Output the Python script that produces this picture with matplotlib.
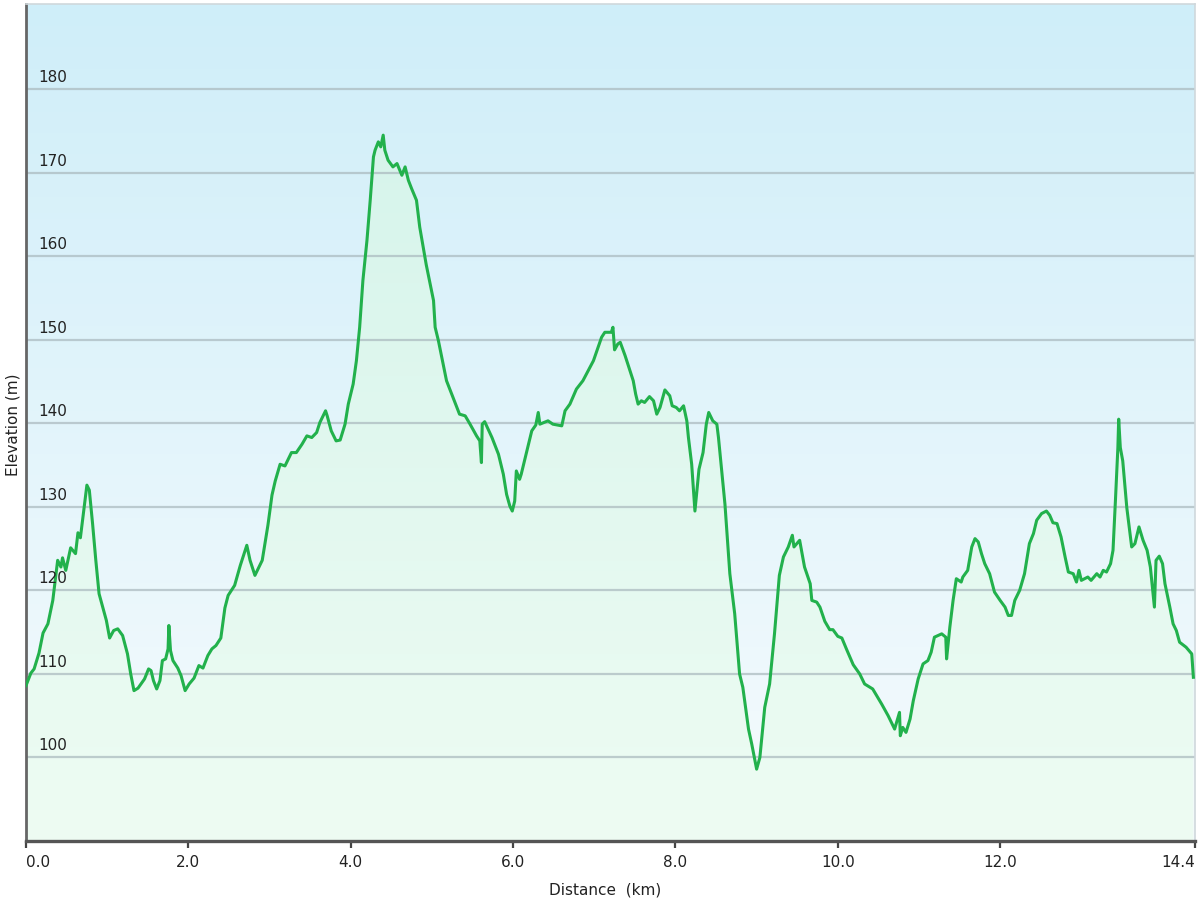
import numpy as np
import matplotlib
matplotlib.use('Agg')
import matplotlib.pyplot as plt
import matplotlib.transforms as mtransforms

# elevation profile (distance km, elevation m)
dist_km = [0.00, 0.06, 0.10, 0.16, 0.21, 0.27, 0.33, 0.39, 0.43, 0.45, 0.49, 0.55, 0.61, 0.64, 0.67,
           0.70, 0.75, 0.78, 0.82, 0.86, 0.90, 0.99, 1.03, 1.08, 1.13, 1.19, 1.25, 1.29, 1.33, 1.38,
           1.46, 1.51, 1.54, 1.57, 1.61, 1.65, 1.68, 1.72, 1.75, 1.76, 1.78, 1.81, 1.87, 1.91, 1.96,
           2.01, 2.07, 2.13, 2.18, 2.24, 2.29, 2.34, 2.40, 2.45, 2.49, 2.57, 2.64, 2.72, 2.76, 2.82,
           2.91, 2.98, 3.03, 3.07, 3.13, 3.19, 3.27, 3.33, 3.40, 3.46, 3.52, 3.58, 3.62, 3.69, 3.71,
           3.76, 3.82, 3.87, 3.93, 3.97, 4.03, 4.07, 4.11, 4.15, 4.20, 4.24, 4.28, 4.30, 4.34, 4.37,
           4.40, 4.42, 4.46, 4.52, 4.57, 4.63, 4.67, 4.71, 4.75, 4.81, 4.85, 4.93, 5.02, 5.04, 5.08,
           5.18, 5.26, 5.34, 5.41, 5.47, 5.55, 5.59, 5.61, 5.62, 5.65, 5.74, 5.82, 5.88, 5.92, 5.96,
           5.99, 6.02, 6.04, 6.08, 6.10, 6.17, 6.23, 6.28, 6.31, 6.33, 6.43, 6.49, 6.60, 6.64, 6.70,
           6.78, 6.86, 6.99, 7.09, 7.13, 7.21, 7.23, 7.25, 7.29, 7.32, 7.38, 7.48, 7.51, 7.54, 7.58,
           7.62, 7.68, 7.73, 7.77, 7.81, 7.87, 7.93, 7.96, 8.01, 8.05, 8.10, 8.14, 8.16, 8.20, 8.24,
           8.29, 8.34, 8.38, 8.41, 8.46, 8.51, 8.53, 8.57, 8.61, 8.67, 8.73, 8.79, 8.83, 8.90, 8.94,
           9.00, 9.04, 9.10, 9.16, 9.22, 9.28, 9.33, 9.39, 9.44, 9.46, 9.53, 9.59, 9.66, 9.68, 9.74,
           9.78, 9.84, 9.90, 9.94, 10.00, 10.05, 10.11, 10.19, 10.27, 10.33, 10.43, 10.54, 10.62, 10.70, 10.76,
           10.77, 10.80, 10.84, 10.89, 10.93, 10.99, 11.05, 11.11, 11.15, 11.19, 11.28, 11.33, 11.34, 11.38, 11.40,
           11.42, 11.46, 11.52, 11.54, 11.60, 11.65, 11.69, 11.73, 11.77, 11.81, 11.87, 11.93, 12.00, 12.06, 12.10,
           12.14, 12.18, 12.24, 12.30, 12.36, 12.41, 12.45, 12.51, 12.57, 12.61, 12.65, 12.70, 12.75, 12.80, 12.84,
           12.90, 12.94, 12.97, 13.00, 13.08, 13.12, 13.19, 13.23, 13.27, 13.31, 13.36, 13.39, 13.42, 13.45, 13.46,
           13.48, 13.51, 13.56, 13.62, 13.66, 13.71, 13.76, 13.81, 13.85, 13.90, 13.92, 13.96, 14.00, 14.03, 14.09,
           14.13, 14.17, 14.21, 14.29, 14.36, 14.38]
elev_m = [108.6, 110.1, 110.6, 112.5, 114.9, 116.0, 118.8, 123.6, 122.8, 123.9, 122.4, 125.1, 124.4, 126.9, 126.3,
          128.7, 132.6, 132.0, 128.0, 123.6, 119.6, 116.4, 114.3, 115.2, 115.4, 114.6, 112.4, 110.0, 108.0, 108.3,
          109.4, 110.6, 110.4, 109.2, 108.2, 109.2, 111.6, 111.8, 113.0, 115.8, 112.8, 111.6, 110.7, 109.8, 108.0,
          108.8, 109.5, 111.0, 110.7, 112.2, 113.0, 113.4, 114.3, 117.9, 119.4, 120.6, 123.0, 125.4, 123.6, 121.8,
          123.6, 127.8, 131.4, 133.1, 135.1, 134.9, 136.5, 136.5, 137.5, 138.5, 138.3, 138.9, 140.1, 141.5, 140.9,
          139.1, 137.9, 138.0, 139.9, 142.3, 144.7, 147.5, 151.5, 157.1, 161.9, 166.7, 171.9, 172.7, 173.7, 173.1,
          174.5, 172.7, 171.5, 170.7, 171.1, 169.7, 170.7, 169.1, 168.1, 166.7, 163.5, 159.0, 154.7, 151.5, 149.9,
          145.1, 143.1, 141.1, 140.9, 139.9, 138.5, 137.9, 135.3, 139.9, 140.2, 138.3, 136.3, 133.9, 131.5, 130.1,
          129.5, 130.7, 134.3, 133.3, 133.9, 136.7, 139.1, 139.8, 141.3, 139.9, 140.3, 139.9, 139.7, 141.5, 142.3,
          144.1, 145.1, 147.5, 150.3, 150.9, 150.9, 151.5, 148.8, 149.5, 149.7, 148.1, 145.1, 143.5, 142.3, 142.7,
          142.5, 143.2, 142.7, 141.1, 141.9, 144.0, 143.3, 142.1, 141.9, 141.5, 142.1, 140.3, 138.3, 135.1, 129.5,
          134.5, 136.5, 139.9, 141.3, 140.3, 139.9, 138.3, 134.3, 130.3, 122.0, 117.2, 110.0, 108.4, 103.4, 101.6,
          98.6, 100.0, 106.0, 108.8, 114.8, 121.8, 124.0, 125.2, 126.6, 125.2, 126.0, 122.8, 120.8, 118.8, 118.6,
          118.0, 116.3, 115.3, 115.3, 114.5, 114.3, 112.9, 111.1, 110.0, 108.8, 108.2, 106.4, 105.0, 103.4, 105.4,
          102.6, 103.6, 103.0, 104.6, 106.8, 109.4, 111.2, 111.6, 112.6, 114.4, 114.8, 114.4, 111.8, 115.6, 117.2,
          118.8, 121.4, 121.0, 121.6, 122.4, 125.2, 126.2, 125.8, 124.4, 123.2, 122.0, 119.8, 118.8, 118.0, 117.0,
          117.0, 118.8, 120.0, 122.0, 125.6, 126.8, 128.4, 129.2, 129.5, 129.0, 128.1, 128.0, 126.4, 124.0, 122.2,
          122.0, 121.0, 122.4, 121.2, 121.6, 121.2, 122.0, 121.6, 122.4, 122.2, 123.2, 124.8, 130.8, 137.1, 140.5,
          137.1, 135.5, 129.9, 125.2, 125.6, 127.6, 126.0, 124.8, 122.8, 118.0, 123.6, 124.1, 123.2, 120.8, 118.0,
          116.0, 115.2, 113.8, 113.2, 112.4, 109.6]

x_ticks = [0, 2, 4, 6, 8, 10, 12, 14.4]
x_tick_labels = ['0.0', '2.0', '4.0', '6.0', '8.0', '10.0', '12.0', '14.4']
y_ticks = [100, 110, 120, 130, 140, 150, 160, 170, 180]

x_min, x_max = 0, 14.4
y_min, y_max = 90, 190.2

fig = plt.figure(figsize=(12, 9), dpi=100)
ax = fig.add_axes([26/1200, 1 - 841/900, 1169/1200, 837/900])
ax.set_xlim(x_min, x_max)
ax.set_ylim(y_min, y_max)

# background gradient: light blue at top -> near white at bottom
def vgrad(top, bottom, n=256):
    t = np.linspace(0, 1, n).reshape(-1, 1, 1)
    top = np.array(top) / 255.0
    bottom = np.array(bottom) / 255.0
    return np.repeat(top + (bottom - top) * t, 2, axis=1)

ax.imshow(vgrad((207, 238, 249), (246, 251, 253)), extent=[x_min, x_max, y_min, y_max],
          aspect='auto', origin='upper', zorder=0, interpolation='bilinear')

# gradient fill under the profile
poly = ax.fill_between(dist_km, elev_m, y_min, color='none', lw=0)
fill_im = ax.imshow(vgrad((210, 243, 234), (238, 252, 243)), extent=[x_min, x_max, y_min, y_max],
                    aspect='auto', origin='upper', zorder=1, interpolation='bilinear')
fill_im.set_clip_path(poly.get_paths()[0], transform=ax.transData)

for v in y_ticks:
    ax.axhline(v, color='#a9b8bd', lw=1.6, alpha=0.7, zorder=2)

ax.plot(dist_km, elev_m, color='#22b14c', lw=2.2, zorder=3, solid_joinstyle='round')

# y labels sit inside the plot, just above each grid line
trans = mtransforms.offset_copy(ax.get_yaxis_transform(), fig=fig, x=0, y=4, units='dots')
for v in y_ticks:
    ax.text(0.0103, v, str(v), transform=trans, ha='left', va='bottom', fontsize=11, color='#222222')
ax.set_yticks([])

ax.set_xticks(x_ticks)
ax.set_xticklabels(x_tick_labels, fontsize=11, color='#222222')
tl = ax.get_xticklabels()
tl[0].set_horizontalalignment('left')
tl[-1].set_horizontalalignment('right')
ax.tick_params(axis='x', direction='out', length=5, width=1.6, color='#444444', pad=5)

for side in ['top', 'right']:
    ax.spines[side].set_color('#cfd8dc')
    ax.spines[side].set_linewidth(1.2)
ax.spines['left'].set_color('#666666')
ax.spines['left'].set_linewidth(2)
ax.spines['bottom'].set_color('#555555')
ax.spines['bottom'].set_linewidth(2.4)

ax.set_xlabel('Distance  (km)', fontsize=11, color='#222222')
ax.xaxis.set_label_coords(0.495, -0.049)
ax.set_ylabel('Elevation (m)', fontsize=11, color='#222222')
ax.yaxis.set_label_coords(-0.005, 0.497)

fig.savefig('out.png', dpi=100, facecolor='white')
